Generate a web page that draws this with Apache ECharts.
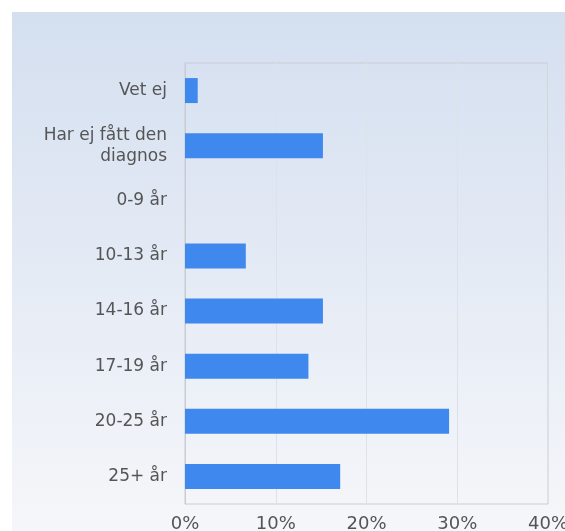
<!DOCTYPE html>
<html><head><meta charset="utf-8">
<script src="https://cdn.jsdelivr.net/npm/echarts@6/dist/echarts.min.js"></script>
<style>html,body{margin:0;padding:0;background:#fff}#c{width:565px;height:531px}</style>
</head><body><div id="c"></div>
<script>
const categories = ["Vet ej", "Har ej fått den\ndiagnos", "0-9 år", "10-13 år", "14-16 år", "17-19 år", "20-25 år", "25+ år"];
const values = [1.4, 15.2, 0, 6.7, 15.2, 13.6, 29.1, 17.1];
const xTicks = [0, 10, 20, 30, 40];

const chart = echarts.init(document.getElementById('c'));
chart.setOption({
  animation: false,
  graphic: [{
    type: 'rect', left: 12, top: 12, shape: {width: 560, height: 530}, z: -10,
    style: {fill: new echarts.graphic.LinearGradient(0, 0, 0, 1, [
      {offset: 0, color: '#d4dff0'}, {offset: 1, color: '#f6f7fa'}])}
  }],
  grid: {left: 185, right: 17, top: 63, bottom: 27, outerBoundsMode: 'none', containLabel: false,
    show: true, borderColor: '#c9ccd3', borderWidth: 1, backgroundColor: 'transparent'},
  xAxis: {
    type: 'value', min: 0, max: 40, interval: 10,
    axisLabel: {formatter: v => xTicks.includes(v) ? v + '%' : '', color: '#555', fontSize: 18, fontFamily: 'DejaVu Sans', margin: 11},
    splitLine: {show: true, lineStyle: {color: '#dde1e8'}},
    axisLine: {show: false}, axisTick: {show: false}
  },
  yAxis: {
    type: 'category', data: categories, inverse: true,
    axisLabel: {color: '#555', fontSize: 17, fontFamily: 'DejaVu Sans', margin: 18, lineHeight: 21, align: 'right'},
    axisLine: {show: true, lineStyle: {color: '#c9ccd3'}}, axisTick: {show: false}, splitLine: {show: false}
  },
  series: [{
    type: 'bar', data: values, barWidth: 25,
    itemStyle: {color: '#3f88ee'}
  }]
});
</script></body></html>
